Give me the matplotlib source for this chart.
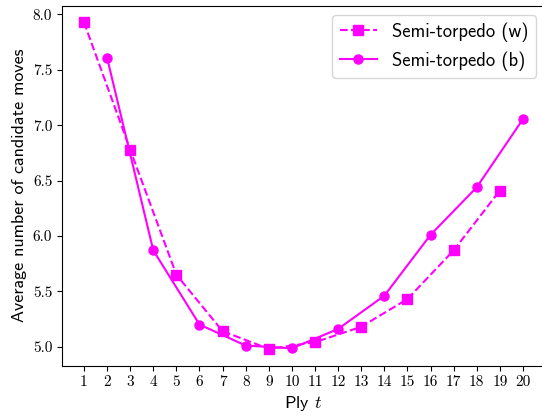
import numpy as np
import matplotlib
matplotlib.use("Agg")
import matplotlib.pyplot as plt

plt.rcParams["axes.formatter.use_mathtext"] = True
plt.rcParams["mathtext.fontset"] = "cm"

ply_w = [1, 3, 5, 7, 9, 11, 13, 15, 17, 19]
moves_w = [7.93, 6.78, 5.65, 5.14, 4.98, 5.04, 5.18, 5.43, 5.87, 6.41]
ply_b = [2, 4, 6, 8, 10, 12, 14, 16, 18, 20]
moves_b = [7.61, 5.87, 5.20, 5.01, 4.985, 5.16, 5.46, 6.01, 6.44, 7.055]
xticks = list(range(1, 21))
yticks = [5.0, 5.5, 6.0, 6.5, 7.0, 7.5, 8.0]

fig = plt.figure(figsize=(5.42, 4.17), dpi=100)
ax = fig.add_axes([0.1144, 0.1235, 0.891, 0.863])

ax.plot(ply_w, moves_w, "--", color="#ff00ff", marker="s", ms=6.5, lw=1.5,
        label="Semi-torpedo (w)")
ax.plot(ply_b, moves_b, "-", color="#ff00ff", marker="o", ms=6.5, lw=1.5,
        label="Semi-torpedo (b)")

ax.set_xticks(xticks)
ax.set_yticks(yticks)
ax.set_xticklabels([str(t) for t in xticks], fontfamily="cmr10", fontsize=11)
ax.set_yticklabels([f"{v:.1f}" for v in yticks], fontfamily="cmr10", fontsize=11)
ax.set_xlim(0.05, 20.95)
ax.set_ylim(4.83, 8.08)

ax.set_xlabel("Ply $t$", fontfamily="cmss10", fontsize=13)
ax.set_ylabel("Average number of candidate moves", fontfamily="cmss10", fontsize=13)
ax.legend(loc="upper right", prop={"family": "cmss10", "size": 13.4})

fig.savefig("out.png", dpi=100)
